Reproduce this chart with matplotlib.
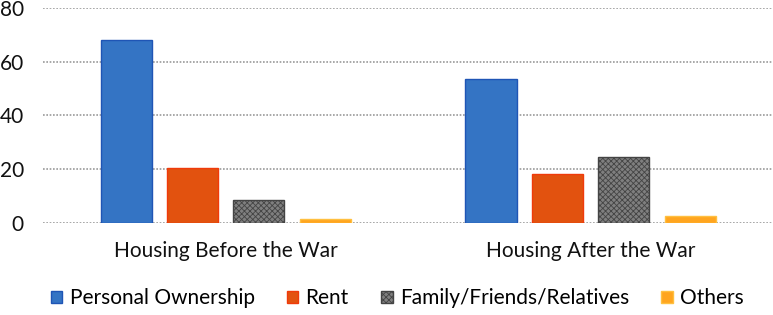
import matplotlib
matplotlib.use("Agg")
import matplotlib.pyplot as plt
import numpy as np
from matplotlib.patches import Patch

categories = ["Housing Before the War", "Housing After the War"]
series = ["Personal Ownership", "Rent", "Family/Friends/Relatives", "Others"]
personal = [68, 53.5]
rent = [20.5, 18.3]
family = [8.7, 24.5]
others = [1.5, 2.6]
yticks = [0, 20, 40, 60, 80]

values = [personal, rent, family, others]
faces = ["#3474C4", "#E2520F", "#7F7F7F", "#FFA51F"]
edges = ["#1F55B5", "#F03A0A", "#444444", "#FFC040"]
hatches = [None, None, "xxxxxx", None]

plt.rcParams['font.family'] = ['Lato', 'DejaVu Sans']
plt.rcParams['hatch.color'] = '#AAAAAA'
plt.rcParams['hatch.linewidth'] = 0.6

fig = plt.figure(figsize=(7.73, 3.15), dpi=100)
ax = fig.add_axes([0.056, 0.292, 0.944, 0.683])

x = np.arange(len(categories))
step = 0.182
width = 0.14
for i, (vals, fc, ec, h) in enumerate(zip(values, faces, edges, hatches)):
    ax.bar(x + (i - 1.5) * step, vals, width, color=fc, edgecolor=ec,
           linewidth=1.0, hatch=h, zorder=3, label=series[i])

ax.set_xlim(-0.5, 1.5)
ax.set_ylim(0, 80)
ax.set_yticks(yticks)
ax.set_xticks(x)
ax.set_xticklabels(categories)
ax.tick_params(axis='both', length=0, labelsize=15, colors='#111111')
ax.tick_params(axis='y', pad=14)
ax.tick_params(axis='x', pad=13)
for s in ax.spines.values():
    s.set_visible(False)
ax.yaxis.grid(True, color='#999999', linestyle=(0, (1, 1)), linewidth=1.2, zorder=0)
ax.set_axisbelow(True)

handles = [Patch(facecolor=fc, edgecolor=ec, hatch=h) for fc, ec, h in zip(faces, edges, hatches)]
fig.legend(handles, series, loc='center', bbox_to_anchor=(0.514, 0.053), ncol=4,
           frameon=False, fontsize=15, handlelength=0.55, handleheight=0.55,
           handletextpad=0.35, columnspacing=1.55)

fig.savefig("out.png", dpi=100)
